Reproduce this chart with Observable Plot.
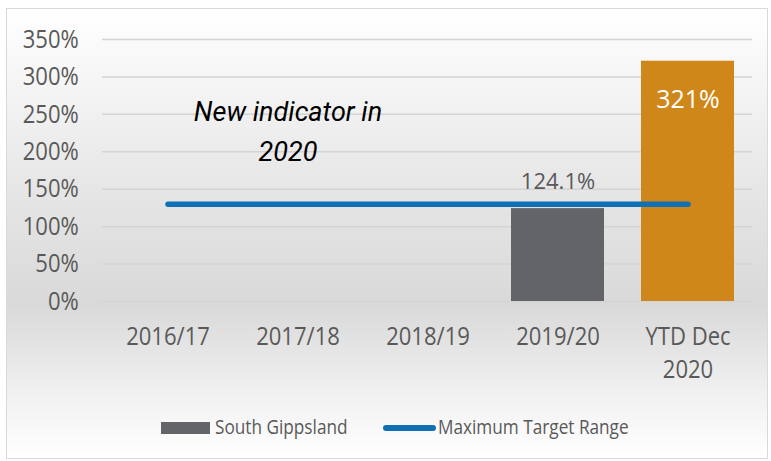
<!DOCTYPE html>
<html>
<head>
<meta charset="utf-8">
<script src="https://cdn.jsdelivr.net/npm/d3@7"></script>
<script src="https://cdn.jsdelivr.net/npm/@observablehq/plot@0.6"></script>
<style>
  html, body { margin: 0; padding: 0; background: #fff; }
  #wrap { position: relative; width: 771px; height: 461px; overflow: hidden; font-family: 'Open Sans', sans-serif; }
  #frame { position: absolute; left: 6px; top: 8px; width: 760px; height: 449px; border: 1px solid #d9d9d9;
    background: linear-gradient(to bottom, #ffffff 0%, #e6e6e6 40%, #d9d9d9 66%, #f0f0f0 85%, #ffffff 100%); }
  #chart { position: absolute; left: 0; top: 0; }
  .lg { position: absolute; }
  .lg-text { font-size: 20px; line-height: 20px; color: #595959; white-space: nowrap; transform: scaleX(0.86); transform-origin: left center; top: 416.5px; }
  .sw-bar { left: 161px; top: 421.5px; width: 49px; height: 12.6px; background: #636468; }
  .sw-line { left: 383px; top: 425px; width: 53px; height: 6px; border-radius: 3px; background: #0f71b3; }
</style>
</head>
<body>
<div id="wrap">
  <div id="frame"></div>
  <div id="chart"></div>
  <div id="legend"></div>
</div>
<script>
const categories = ["2016/17", "2017/18", "2018/19", "2019/20", "YTD Dec 2020"];
const southGippsland = [null, null, null, 124.1, 321];
const maximumTarget = [130, 130, 130, 130, 130];
const yTicks = [0, 50, 100, 150, 200, 250, 300, 350];
const seriesNames = ["South Gippsland", "Maximum Target Range"];
const annotation = "New indicator in\n2020";
const xTickLabels = ["2016/17", "2017/18", "2018/19", "2019/20", "YTD Dec\n2020"];

const GRAY = "#636468", ORANGE = "#d08719", BLUE = "#0f71b3", TEXT = "#595959";
const FONT = "'Open Sans', sans-serif";

const data = categories.map((c, i) => ({category: c, value: southGippsland[i], target: maximumTarget[i]}));
const bars = data.filter(d => d.value != null);
const last = categories[categories.length - 1];

const chart = Plot.plot({
  width: 771,
  height: 400,
  marginLeft: 102,
  marginRight: 19,
  marginTop: 39,
  marginBottom: 99,
  style: {background: "transparent", fontFamily: FONT, overflow: "visible"},
  x: {domain: categories, paddingInner: 0.285, paddingOuter: 0.1425, label: null},
  y: {domain: [0, 350], label: null},
  color: {type: "identity"},
  marks: [
    Plot.gridY(yTicks, {stroke: "#d4d4d4", strokeOpacity: 1, strokeWidth: 1.5}),
    Plot.barY(bars, {x: "category", y: "value", fill: d => d.category === last ? ORANGE : GRAY}),
    Plot.lineY(data, {x: "category", y: "target", stroke: BLUE, strokeWidth: 5.5, strokeLinecap: "round"}),
    Plot.text(bars.filter(d => d.category !== last), {x: "category", y: "value", text: d => d.value + "%", dy: -27, fill: TEXT, fontSize: 22, ariaLabel: "label-a"}),
    Plot.text(bars.filter(d => d.category === last), {x: "category", y: "value", text: d => d.value + "%", dy: 39, fill: "#ffffff", fontSize: 25, ariaLabel: "label-b"}),
    Plot.text([annotation], {x: () => categories[1], y: () => 232, text: d => d, dx: -10, fontSize: 27, fontFamily: "Roboto, sans-serif", fontStyle: "italic", fill: "#000", lineHeight: 1.48}),
    Plot.axisY(yTicks, {tickSize: 0, tickPadding: 23.7, tickFormat: d => d + "%", fontSize: 25.5, fill: TEXT}),
    Plot.axisX(categories, {tickSize: 0, tickPadding: 20, tickFormat: d => xTickLabels[categories.indexOf(d)], fontSize: 25.5, fill: TEXT, lineHeight: 1.3, textAnchor: "middle", lineAnchor: "top"})
  ]
});
document.getElementById("chart").appendChild(chart);

// Horizontal condensing of the text (the reference uses a condensed face)
const svgEl = chart.tagName.toLowerCase() === "svg" ? chart : chart.querySelector("svg");
function condense(nodes, s) {
  nodes.forEach(node => {
    const bb = node.getBBox();
    const anchor = window.getComputedStyle(node).textAnchor;
    const ax = anchor === "end" ? bb.x + bb.width : anchor === "middle" ? bb.x + bb.width / 2 : bb.x;
    const c = node.transform.baseVal.consolidate();
    const m = c ? c.matrix : svgEl.createSVGMatrix();
    const n = m.translate(ax, 0).scaleNonUniform(s, 1).translate(-ax, 0);
    node.setAttribute("transform", `matrix(${n.a},${n.b},${n.c},${n.d},${n.e},${n.f})`);
  });
}
function textsOf(label) {
  const out = [];
  svgEl.querySelectorAll("g").forEach(g => {
    const a = g.getAttribute("aria-label") || "";
    if (a === label) g.querySelectorAll(":scope > text").forEach(t => out.push(t));
  });
  return out;
}
condense(textsOf("y-axis tick label"), 0.865);
condense(textsOf("x-axis tick label"), 0.865);
condense(textsOf("label-a"), 0.95);
condense(textsOf("label-b"), 0.86);

const legend = document.getElementById("legend");
legend.innerHTML = `<div class="lg sw-bar"></div><span class="lg lg-text" style="left:215px">${seriesNames[0]}</span>` +
  `<div class="lg sw-line"></div><span class="lg lg-text" style="left:438px">${seriesNames[1]}</span>`;
</script>
</body>
</html>
